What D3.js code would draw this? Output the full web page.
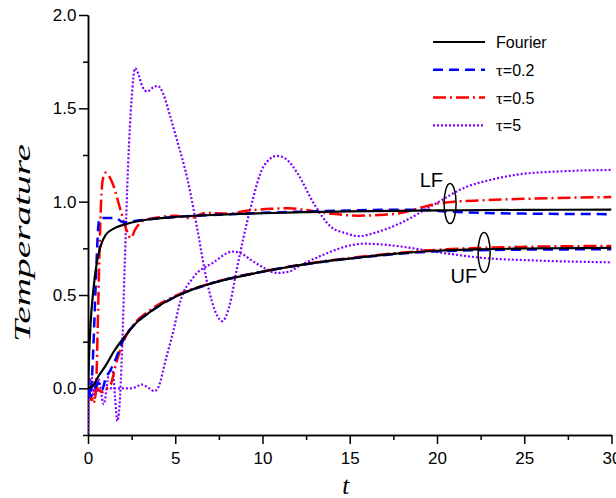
<!DOCTYPE html>
<html>
<head>
<meta charset="utf-8">
<script src="https://cdn.jsdelivr.net/npm/d3@7"></script>
<style>
  body { margin: 0; background: #fff; }
  .axis path, .axis line { stroke: #000; stroke-width: 1.5; }
  .axis text { font-family: "Liberation Sans", Arial, sans-serif; font-size: 17px; fill: #000; }
</style>
</head>
<body>
<div id="chart"></div>
<script>
// tick values
const tTicks = [0, 5, 10, 15, 20, 25, 30];
const tMinor = [2.5, 7.5, 12.5, 17.5, 22.5, 27.5];
const tempTicks = [0, 0.5, 1.0, 1.5, 2.0];
const tempMinor = [-0.25, 0.25, 0.75, 1.25, 1.75];

const seriesNames = ['Fourier', '=0.2', '=0.5', '=5'];

// LF curves [t, temperature]
const lfFourier = [[0,0],[0.05,0.15],[0.15,0.35],[0.3,0.52],[0.5,0.67],[0.75,0.77],[1,0.82],[1.5,0.857],[2,0.875],[3,0.898],[4,0.91],[5,0.918],[7.5,0.93],[10,0.938],[12.5,0.944],[15,0.948],[20,0.953],[25,0.956],[30,0.957]];
const lfTau02 = [[0,0],[0.1,-0.05],[0.2,0.02],[0.3,0.2],[0.4,0.45],[0.5,0.7],[0.6,0.88],[0.7,0.912],[1.0,0.912],[1.6,0.912],[2.0,0.89],[3,0.9],[4,0.91],[5,0.918],[7.5,0.93],[10,0.94],[12.5,0.947],[15,0.953],[17.5,0.957],[19,0.957],[20.5,0.948],[22.5,0.94],[25,0.936],[30,0.933]];
const lfTau05 = [[0,0],[0.15,-0.05],[0.3,-0.08],[0.45,-0.02],[0.55,0.3],[0.65,0.7],[0.75,1.0],[0.85,1.12],[1.0,1.155],[1.4,1.1],[1.85,0.96],[2.2,0.85],[2.45,0.805],[2.7,0.85],[3.2,0.9],[4,0.915],[5,0.925],[5.8,0.912],[6.8,0.94],[8,0.935],[9,0.95],[10.5,0.962],[11.5,0.965],[12.5,0.955],[14,0.935],[15.5,0.925],[17,0.93],[18,0.94],[19,0.966],[20,0.99],[21,1.0],[22.5,1.007],[25,1.015],[30,1.025]];
const lfTau5 = [[0,0],[0.2,0.06],[0.4,-0.05],[0.6,0.05],[0.9,-0.085],[1.2,0.08],[1.4,0.1],[1.55,-0.05],[1.68,-0.175],[1.8,-0.1],[1.95,0.2],[2.1,0.65],[2.3,1.2],[2.5,1.55],[2.7,1.715],[2.9,1.68],[3.1,1.62],[3.4,1.59],[3.7,1.61],[4.0,1.62],[4.3,1.58],[4.7,1.46],[5.1,1.33],[5.7,1.12],[6.25,0.86],[6.8,0.58],[7.4,0.39],[7.7,0.36],[8.1,0.44],[8.55,0.65],[9.3,0.96],[10.07,1.19],[10.84,1.245],[11.4,1.225],[12,1.153],[12.94,0.99],[13.9,0.867],[14.8,0.83],[15.5,0.815],[16.5,0.835],[17.9,0.885],[19.8,0.983],[21.7,1.08],[23,1.115],[24.6,1.145],[27,1.162],[30,1.17]];

// UF curves [t, temperature]
const ufFourier = [[0,0],[0.3,0.015],[0.6,0.065],[1.0,0.12],[1.5,0.2],[2,0.265],[2.7,0.345],[3.5,0.405],[4.2,0.45],[5,0.49],[6,0.53],[7,0.56],[8,0.585],[9,0.605],[10,0.625],[11,0.642],[12.5,0.665],[14,0.685],[15,0.695],[17.5,0.72],[20,0.737],[22.5,0.745],[25,0.749],[30,0.752]];
const ufTau02 = [[0,0],[0.2,-0.04],[0.4,0.0],[0.6,0.03],[0.8,-0.01],[1.0,0.05],[1.3,0.1],[1.6,0.16],[2.0,0.255],[2.7,0.345],[3.5,0.405],[5,0.49],[7,0.56],[10,0.625],[12.5,0.665],[15,0.695],[17.5,0.718],[20,0.734],[22.5,0.74],[25,0.743],[30,0.745]];
const ufTau05 = [[0,0],[0.15,-0.04],[0.3,-0.07],[0.5,0.0],[0.8,-0.02],[1.1,0.0],[1.3,0.02],[1.6,0.13],[2.0,0.245],[2.7,0.35],[3.5,0.415],[5,0.495],[7,0.562],[10,0.625],[12.5,0.667],[15,0.698],[17.5,0.723],[20,0.742],[22.5,0.752],[25,0.758],[30,0.763]];
const ufTau5 = [[0,-0.24],[0.05,-0.05],[0.15,0.05],[0.3,-0.03],[0.45,0.03],[0.6,-0.02],[0.8,0.0],[2.5,0.0],[3.1,0.02],[3.5,0.0],[3.8,-0.015],[4.0,0.0],[4.5,0.17],[4.9,0.31],[5.3,0.47],[6.0,0.59],[7.2,0.675],[8.3,0.733],[8.8,0.722],[9.3,0.69],[10,0.65],[10.84,0.618],[11.5,0.625],[12.2,0.66],[13.5,0.716],[15,0.765],[15.8,0.775],[16.5,0.773],[17.9,0.76],[19.8,0.733],[22.7,0.698],[25.6,0.685],[30,0.675]];

// ellipse call-outs, in data coordinates
const callouts = [
  { name: 'LF', t: 20.75, temp: 0.99 },
  { name: 'UF', t: 22.7, temp: 0.728 }
];

const styles = [
  { color: '#000000', width: 2.2, dash: null },
  { color: '#0000ff', width: 2.5, dash: '10,6' },
  { color: '#ff0000', width: 2.5, dash: '13,4,2,4' },
  { color: '#8000ff', width: 2.2, dash: '2,2' }
];

const W = 616, H = 498;
const margin = { top: 15, right: 4.5, bottom: 63, left: 88 };
const width = W - margin.left - margin.right;
const height = H - margin.top - margin.bottom;

const svg = d3.select('#chart').append('svg')
  .attr('width', W)
  .attr('height', H);

const chart = svg.append('g')
  .attr('transform', `translate(${margin.left},${margin.top})`);

const x = d3.scaleLinear().domain([0, 30]).range([0, width]);
const y = d3.scaleLinear().domain([-0.25, 2.0]).range([height, 0]);

svg.append('defs').append('clipPath').attr('id', 'plot')
  .append('rect').attr('x', 0).attr('y', 0).attr('width', width).attr('height', height);

// axes
chart.append('g').attr('class', 'axis')
  .attr('transform', `translate(0,${height})`)
  .call(d3.axisBottom(x).tickValues(tMinor).tickSize(5).tickFormat('').tickSizeOuter(0));
chart.append('g').attr('class', 'axis')
  .attr('transform', `translate(0,${height})`)
  .call(d3.axisBottom(x).tickValues(tTicks).tickSize(9).tickPadding(8).tickSizeOuter(0).tickFormat(d3.format('d')));

chart.append('g').attr('class', 'axis')
  .call(d3.axisLeft(y).tickValues(tempMinor).tickSize(5).tickFormat('').tickSizeOuter(0));
chart.append('g').attr('class', 'axis')
  .call(d3.axisLeft(y).tickValues(tempTicks).tickSize(9).tickPadding(2.5).tickSizeOuter(0).tickFormat(d3.format('.1f')));

// curves
const line = d3.line()
  .x(d => x(d[0]))
  .y(d => y(d[1]))
  .curve(d3.curveMonotoneX);

const plot = chart.append('g').attr('clip-path', 'url(#plot)');
const groups = [
  [lfFourier, ufFourier],
  [lfTau02, ufTau02],
  [lfTau05, ufTau05],
  [lfTau5, ufTau5]
];
// draw the violet curves first so the others sit on top
[3, 2, 1, 0].forEach(i => {
  groups[i].forEach(data => {
    plot.append('path')
      .datum(data)
      .attr('d', line)
      .attr('fill', 'none')
      .attr('stroke', styles[i].color)
      .attr('stroke-width', styles[i].width)
      .attr('stroke-dasharray', styles[i].dash);
  });
});

// call-outs
callouts.forEach(c => {
  chart.append('ellipse')
    .attr('cx', x(c.t))
    .attr('cy', y(c.temp))
    .attr('rx', 6)
    .attr('ry', 20)
    .attr('fill', 'none')
    .attr('stroke', '#000')
    .attr('stroke-width', 1.5);
  chart.append('text')
    .attr('x', x(c.t) - 7)
    .attr('y', c.name === 'LF' ? y(c.temp) - 17 : y(c.temp) + 31)
    .attr('text-anchor', 'end')
    .style('font-family', '"Liberation Sans", Arial, sans-serif')
    .style('font-size', '20px')
    .text(c.name);
});

// legend
const legend = svg.append('g').attr('transform', 'translate(433,42)');
seriesNames.forEach((name, i) => {
  const row = legend.append('g').attr('transform', `translate(0,${i * 27.8})`);
  row.append('line')
    .attr('x1', 0).attr('x2', 52)
    .attr('stroke', styles[i].color)
    .attr('stroke-width', styles[i].width)
    .attr('stroke-dasharray', styles[i].dash);
  const txt = row.append('text')
    .attr('x', 63)
    .attr('y', 6)
    .style('font-family', '"Liberation Sans", Arial, sans-serif')
    .style('font-size', '16px');
  if (i === 0) {
    txt.text(name);
  } else {
    txt.append('tspan').style('font-family', '"Liberation Serif", "Times New Roman", serif').style('font-size', '17px').text('τ');
    txt.append('tspan').text(name);
  }
});

// axis titles
svg.append('text')
  .attr('x', margin.left + x(15) - 4)
  .attr('y', 494)
  .attr('text-anchor', 'middle')
  .style('font-family', '"Liberation Serif", "Times New Roman", serif')
  .style('font-style', 'italic')
  .style('font-size', '25px')
  .text('t');

svg.append('text')
  .attr('transform', 'translate(30,243) rotate(-90)')
  .attr('text-anchor', 'middle')
  .attr('textLength', 198)
  .attr('lengthAdjust', 'spacingAndGlyphs')
  .style('font-family', '"Liberation Serif", "Times New Roman", serif')
  .style('font-style', 'italic')
  .style('font-size', '23px')
  .text('Temperature');
</script>
</body>
</html>
